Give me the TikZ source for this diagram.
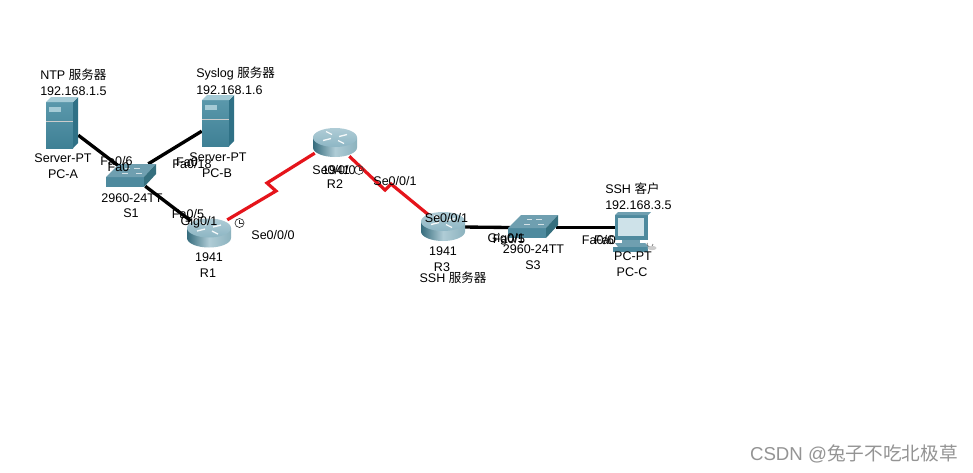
\documentclass[tikz,border=0pt]{standalone}
\usepackage{fontspec}
\setmainfont{Liberation Sans}
\newfontfamily\cjk{Noto Sans CJK SC}
\definecolor{srvfront}{HTML}{5A98AB}
\definecolor{srvfrontb}{HTML}{3F8095}
\definecolor{srvside}{HTML}{2F7186}
\definecolor{srvtop}{HTML}{A5CBD6}
\definecolor{swtop}{HTML}{6F9FB0}
\definecolor{swfront}{HTML}{4E8A9E}
\definecolor{swside}{HTML}{36707F}
\definecolor{rt}{HTML}{8DB6C4}
\definecolor{rtd}{HTML}{3F7F93}
\definecolor{lnk}{HTML}{E5141B}
\tikzset{
  lbl/.style={font=\fontsize{9.4}{10}\selectfont,inner sep=0pt,text=black},
  wm/.style={font=\fontsize{14}{16}\selectfont,inner sep=0pt,text=black!42},
  eth/.style={line width=2.5pt,black},
  ser/.style={line width=2.4pt,lnk},
  anchorpt/.style={inner sep=0pt,minimum size=0pt},
}
\newcommand{\srvicon}[1]{%
  \shade[top color=srvfront,bottom color=srvfrontb] (#1)++(-14,-23) rectangle ++(27,46);
  \fill[srvside] (#1)++(13,-23) -- ++(5,-5) -- ++(0,46) -- ++(-5,5) -- cycle;
  \fill[srvtop] (#1)++(-14,-23) -- ++(5,-5) -- ++(27,0) -- ++(-5,5) -- cycle;
  \fill[srvtop] (#1)++(-11,-18) rectangle ++(12,5);
  \draw[black!20,line width=.3pt] (#1)++(-14,-4) -- ++(27,0);
}
\newcommand{\swicon}[1]{%
  \fill[swfront] (#1)++(-24,2) rectangle ++(38,10);
  \fill[swtop] (#1)++(-24,2) -- ++(13,-13) -- ++(37,0) -- ++(-12,13) -- cycle;
  \fill[swside] (#1)++(14,2) -- ++(12,-13) -- ++(0,10) -- ++(-12,13) -- cycle;
  \draw[white!70!swtop,line width=.5pt] (#1)++(-8,-2) -- ++(6,0) (#1)++(4,-7) -- ++(6,0) (#1)++(-5,-7) -- ++(5,0) (#1)++(6,-2) -- ++(6,0);
}
\newcommand{\rticon}[1]{%
  \shade[left color=rtd!85!black,right color=rtd!60!white,middle color=rt!70!white] (#1)++(-22,-5) -- ++(0,10) arc[start angle=180,end angle=0,x radius=22,y radius=9.5] -- ++(0,-10) -- cycle;
  \shade[top color=rt!70!white,bottom color=rt] (#1)++(0,-5) ellipse[x radius=22,y radius=9.5];
  \draw[white!90!rt,line width=1pt] (#1)++(-12,-2) -- ++(8,-2) (#1)++(12,-8) -- ++(-8,2) (#1)++(-9,-11) -- ++(6,3) (#1)++(9,1) -- ++(-6,-3);
}
\newcommand{\pcicon}[1]{%
  \fill[swfront] (#1)++(-13,-17) rectangle ++(33,25);
  \fill[swtop] (#1)++(-13,-17) -- ++(3,-3) -- ++(33,0) -- ++(-3,3) -- cycle;
  \fill[srvtop!55!white] (#1)++(-10,-14) rectangle ++(26,18);
  \fill[swtop] (#1)++(-6,8) rectangle ++(18,3);
  \fill[swtop] (#1)++(-13,11) -- ++(30,0) -- ++(4,4) -- ++(-31,0) -- cycle;
  \fill[swfront] (#1)++(-15,15) rectangle ++(35,5);
  \draw[black!55,line width=.5pt] (#1)++(25,12) arc[start angle=0,end angle=200,radius=3];
  \fill[black!20] (#1)++(24,16) ellipse[x radius=4.5,y radius=2.2];
}
\begin{document}
\begin{tikzpicture}[x=0.75pt,y=-0.75pt]
\useasboundingbox (0,0) rectangle (973,472);
\fill[white] (0,0) rectangle (973,472);
% anchors for links
\node[anchorpt] (pca) at (78,135) {};
\node[anchorpt] (pcb) at (202,131) {};
\node[anchorpt] (s1a) at (120,167) {};
\node[anchorpt] (s1b) at (148,164) {};
\node[anchorpt] (s1c) at (145,186) {};
\node[anchorpt] (r1) at (191,221) {};
\node[anchorpt] (r1s) at (227,220) {};
\node[anchorpt] (r2w) at (315,153) {};
\node[anchorpt] (r2e) at (349,156) {};
\node[anchorpt] (r3) at (430,216) {};
\node[anchorpt] (r3e) at (463,227) {};
\node[anchorpt] (s3w) at (510,227.5) {};
\node[anchorpt] (s3e) at (556,227.5) {};
\node[anchorpt] (pcc) at (616,227.5) {};
\coordinate (k1) at (267,183);
\coordinate (k2) at (276,191);
\coordinate (k3) at (391,184);
\coordinate (k4) at (385,190);
% links
\draw[eth] (pca) -- (s1a);
\draw[eth] (pcb) -- (s1b);
\draw[eth] (s1c) -- (r1);
\draw[ser] (r1s) -- (k2) -- (k1) -- (r2w);
\draw[ser] (r2e) -- (k4) -- (k3) -- (r3);
\draw[eth] (r3e) -- (s3w);
\draw[eth] (s3e) -- (pcc);
% devices
\srvicon{60,125}
\srvicon{216,123}
\swicon{130,175}
\rticon{209,233}
\rticon{335,142.5}
\rticon{443,226.5}
\swicon{532,226}
\pcicon{628,232}
% clocks
\draw[black!80,line width=.5pt] (239.5,223) circle (4.5);
\draw[black!80,line width=.5pt] (239.5,220) -- (239.5,223) -- (242.5,223);
\draw[black!80,line width=.5pt] (359,170) circle (4.5);
\draw[black!80,line width=.5pt] (359,167) -- (359,170) -- (362,170);
% labels
\node[lbl,anchor=west] at (40,75) {NTP {\cjk 服务器}};
\node[lbl,anchor=west] at (40,91) {192.168.1.5};
\node[lbl,anchor=west] at (196,74) {Syslog {\cjk 服务器}};
\node[lbl,anchor=west] at (196,90) {192.168.1.6};
\node[lbl] at (63,158) {Server-PT};
\node[lbl] at (63,174) {PC-A};
\node[lbl] at (218,157) {Server-PT};
\node[lbl] at (217,173) {PC-B};
\node[lbl] at (116.5,161) {Fa0/6};
\node[lbl] at (118.5,167) {Fa0};
\node[lbl] at (192,164) {Fa0/18};
\node[lbl] at (187,162) {Fa0};
\node[lbl] at (132,198) {2960-24TT};
\node[lbl] at (131,213) {S1};
\node[lbl] at (188,214) {Fa0/5};
\node[lbl] at (199,222) {Gig0/1};
\node[lbl] at (273,235) {Se0/0/0};
\node[lbl] at (209,257) {1941};
\node[lbl] at (208,273) {R1};
\node[lbl] at (336,170) {1941};
\node[lbl] at (334,170) {Se0/0/0};
\node[lbl] at (335,184) {R2};
\node[lbl] at (395,181) {Se0/0/1};
\node[lbl] at (446.5,218) {Se0/0/1};
\node[lbl] at (443,251) {1941};
\node[lbl] at (442,267) {R3};
\node[lbl] at (453,278) {SSH {\cjk 服务器}};
\node[lbl] at (506,239) {Gig0/1};
\node[lbl] at (509,239) {Fa0/5};
\node[lbl] at (533.5,249) {2960-24TT};
\node[lbl] at (533,265) {S3};
\node[lbl] at (598,240) {Fa0/6};
\node[lbl] at (605,240) {Fa0};
\node[lbl] at (633,256) {PC-PT};
\node[lbl] at (632,272) {PC-C};
\node[lbl,anchor=west] at (605,189) {SSH {\cjk 客户}};
\node[lbl,anchor=west] at (605,205.5) {192.168.3.5};
\node[wm,anchor=east] at (958,454) {CSDN @{\cjk 兔子不吃北极草}};
\end{tikzpicture}
\end{document}
